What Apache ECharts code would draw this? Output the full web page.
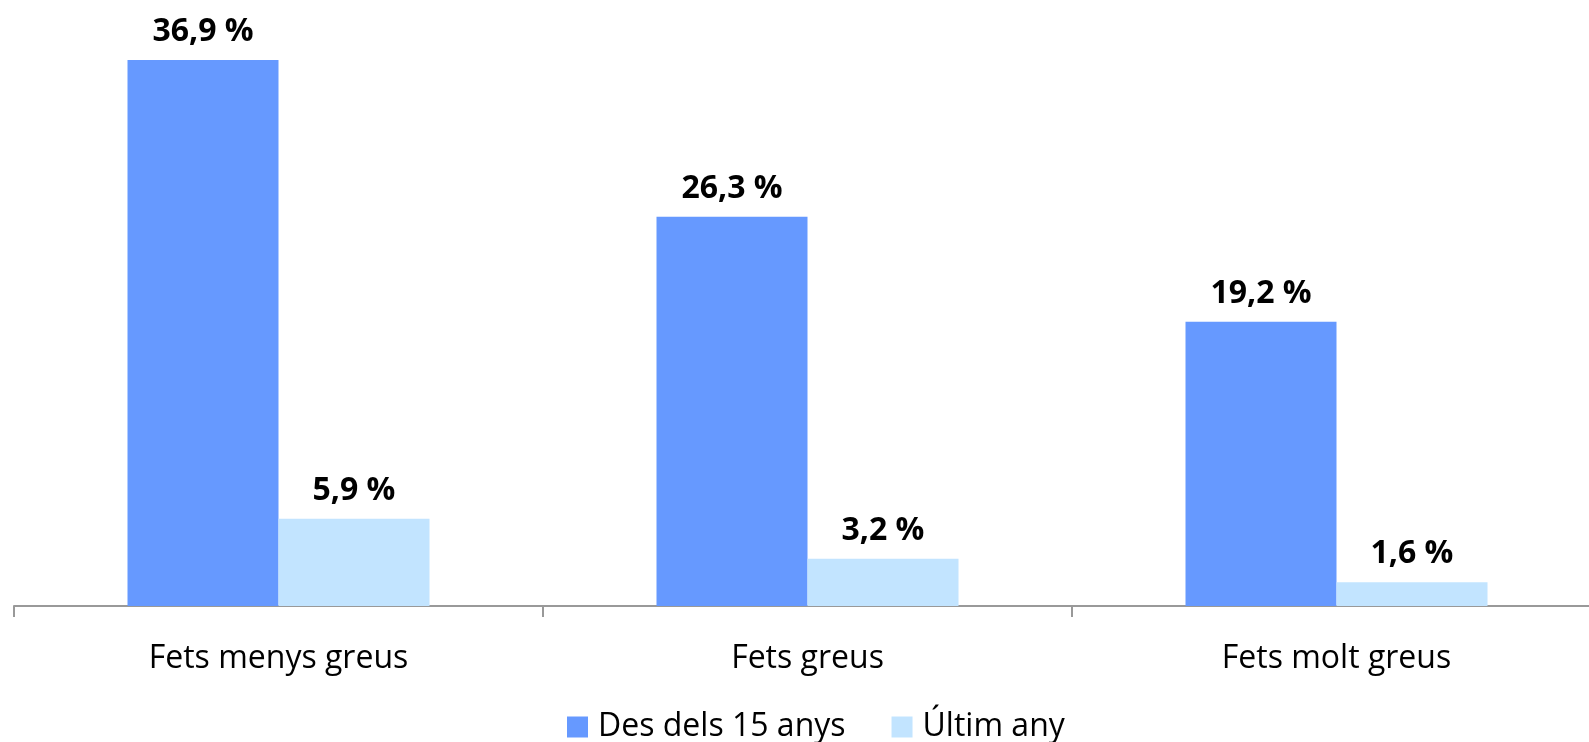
<!DOCTYPE html>
<html><head><meta charset="utf-8">
<script src="https://cdn.jsdelivr.net/npm/echarts@6/dist/echarts.min.js"></script>
<style>html,body{margin:0;padding:0;background:#fff}#c{width:1589px;height:742px}</style>
</head><body><div id="c"></div>
<script>
const categories = ['Fets menys greus', 'Fets greus', 'Fets molt greus'];
const seriesNames = ['Des dels 15 anys', 'Últim any'];
const desDels15 = [36.9, 26.3, 19.2];
const ultimAny = [5.9, 3.2, 1.6];
const colors = ['#6699FF', '#C2E4FF'];
const FONT = '"Open Sans", sans-serif';

const chart = echarts.init(document.getElementById('c'));
const lbl = {
  show: true, position: 'top', distance: 12,
  formatter: p => p.value.toFixed(1).replace('.', ',') + ' %',
  fontFamily: FONT, fontWeight: 'bold', fontSize: 32, color: '#000'
};
chart.setOption({
  animation: false,
  textStyle: { fontFamily: FONT },
  legend: {
    top: 706, left: 562, itemWidth: 21, itemHeight: 21, itemGap: 46,
    icon: 'rect',
    textStyle: { fontSize: 32, color: '#000', fontFamily: FONT, padding: [0, 0, 0, 5] }
  },
  grid: { left: 14, width: 1587, top: 14, bottom: 136, containLabel: false, outerBoundsMode: 'none' },
  xAxis: {
    type: 'category', data: categories,
    axisLine: { lineStyle: { color: '#999', width: 2 } },
    axisTick: { show: true, length: 11, lineStyle: { color: '#999', width: 2 } },
    axisLabel: { fontSize: 32, color: '#000', margin: 37, fontFamily: FONT }
  },
  yAxis: { type: 'value', min: 0, max: 40, show: false, splitLine: { show: false } },
  series: [
    { name: seriesNames[0], type: 'bar', data: desDels15, barWidth: 151, barGap: '0%',
      itemStyle: { color: colors[0] }, label: lbl },
    { name: seriesNames[1], type: 'bar', data: ultimAny, barWidth: 151, barGap: '0%',
      itemStyle: { color: colors[1] }, label: lbl }
  ]
});
</script></body></html>
